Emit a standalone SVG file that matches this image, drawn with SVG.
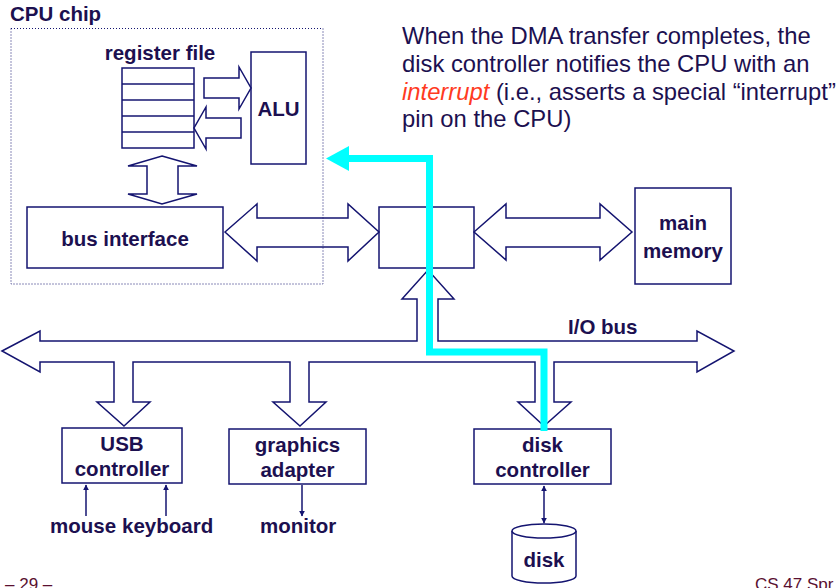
<svg xmlns="http://www.w3.org/2000/svg" width="839" height="588" viewBox="0 0 839 588">
<style>
.box{fill:#fff;stroke:#141470;stroke-width:1.5}
.fat{fill:#fff;stroke:#141470;stroke-width:1.5;stroke-linejoin:miter}
.lbl{font-family:"Liberation Sans",Arial,sans-serif;font-weight:bold;font-size:20.5px;fill:#1c1050;text-anchor:middle}
.lbl-l{font-family:"Liberation Sans",Arial,sans-serif;font-weight:bold;font-size:20.5px;fill:#1c1050}
.note{font-family:"Liberation Sans",Arial,sans-serif;font-size:23.8px;fill:#1c1050}
.foot{font-family:"Liberation Sans",Arial,sans-serif;font-size:17px;fill:#5a1030}
.thin{stroke:#141470;stroke-width:1.5;fill:none}
</style>
<defs>
<marker id="ah" viewBox="0 0 10 10" refX="9" refY="5" markerWidth="6" markerHeight="6" markerUnits="userSpaceOnUse" orient="auto-start-reverse">
<path d="M0,0 L10,5 L0,10 z" fill="#141470"/>
</marker>
</defs>
<rect width="839" height="588" fill="#fff"/>

<g id="cpu-chip">
<rect x="11" y="28.5" width="312" height="255.5" fill="none" stroke="#141470" stroke-width="1" stroke-dasharray="1,2"/>
<text class="lbl-l" x="10" y="21">CPU chip</text>
</g>

<g id="register-file">
<text class="lbl" x="160" y="60">register file</text>
<rect class="box" x="122" y="68" width="72" height="80"/>
<line class="thin" x1="122" y1="84" x2="194" y2="84"/>
<line class="thin" x1="122" y1="100" x2="194" y2="100"/>
<line class="thin" x1="122" y1="116" x2="194" y2="116"/>
<line class="thin" x1="122" y1="132" x2="194" y2="132"/>
</g>

<g id="alu">
<rect class="box" x="251" y="52" width="55" height="112"/>
<text class="lbl" x="278.5" y="116">ALU</text>
</g>

<g id="bus-interface">
<rect class="box" x="27" y="207" width="196" height="61"/>
<text class="lbl" x="125" y="246">bus interface</text>
</g>

<g id="io-bridge">
<rect class="box" x="379" y="207" width="95" height="61"/>
</g>

<g id="main-memory">
<rect class="box" x="635" y="188" width="96" height="96"/>
<text class="lbl" x="683" y="230">main</text>
<text class="lbl" x="683" y="258">memory</text>
</g>

<g id="usb-controller">
<rect class="box" x="62" y="428" width="120" height="55"/>
<text class="lbl" x="122" y="451">USB</text>
<text class="lbl" x="122" y="476">controller</text>
</g>

<g id="graphics-adapter">
<rect class="box" x="229" y="429" width="137" height="55"/>
<text class="lbl" x="297.5" y="452">graphics</text>
<text class="lbl" x="297.5" y="477">adapter</text>
</g>

<g id="disk-controller">
<rect class="box" x="474" y="429" width="137" height="55"/>
<text class="lbl" x="542.5" y="452">disk</text>
<text class="lbl" x="542.5" y="477">controller</text>
</g>

<g id="disk">
<path d="M512,531 V576 A32,7 0 0 0 576,576 V531" fill="#fff" stroke="#141470" stroke-width="1.5"/>
<ellipse cx="544" cy="531" rx="32" ry="7" fill="#fff" stroke="#141470" stroke-width="1.5"/>
<text class="lbl" x="544" y="567">disk</text>
</g>

<g id="mouse"><text class="lbl-l" x="50" y="533">mouse</text></g>
<g id="keyboard"><text class="lbl-l" x="122" y="533">keyboard</text></g>
<g id="monitor"><text class="lbl-l" x="260" y="533">monitor</text></g>

<g id="note">
<text class="note" x="402" y="43.5">When the DMA transfer completes, the</text>
<text class="note" x="402" y="71.5">disk controller notifies the CPU with an</text>
<text class="note" x="402" y="99.5"><tspan font-style="italic" fill="#ff3b1f">interrupt</tspan> (i.e., asserts a special “interrupt”</text>
<text class="note" x="402" y="127">pin on the CPU)</text>
</g>

<g id="connectors">
<polygon class="fat" points="204,78 239,78 239,67 251,88 239,109 239,98 204,98"/>
<polygon class="fat" points="241,118 206,118 206,107 194,128 206,149 206,138 241,138"/>
<polygon class="fat" points="162,156 197,166 178,166 178,194 197,194 162,204 128,194 147,194 147,166 128,166"/>
<polygon class="fat" fill-opacity="0" points="225,232 257,204 257,218 348,218 348,204 379,232 348,261 348,247 257,247 257,261"/>
<polygon class="fat" points="474,232 506,204 506,218 600,218 600,204 632,232 600,260 600,247 506,247 506,260"/>
<polygon class="fat" points="2,351 40,331 40,341 417,341 417,299 402,299 428,270 454,299 438,299 438,341 697,341 697,331 734,351 697,372 697,362 554,362 554,402 571,402 544,426 518,402 535,402 535,362 309,362 309,402 326,402 300,426 273,402 290,402 290,362 133,362 133,402 150,402 124,426 97,402 114,402 114,362 40,362 40,372"/>
<text class="lbl-l" x="568" y="334">I/O bus</text>
<line class="thin" x1="86" y1="516" x2="86" y2="485" marker-end="url(#ah)"/>
<line class="thin" x1="166" y1="516" x2="166" y2="485" marker-end="url(#ah)"/>
<line class="thin" x1="302" y1="485" x2="302" y2="516" marker-end="url(#ah)"/>
<line class="thin" x1="544" y1="486" x2="544" y2="523" marker-start="url(#ah)" marker-end="url(#ah)"/>
<path d="M544,431 V352 H429.5 V158.5 H347" fill="none" stroke="#00ffff" stroke-width="7" stroke-linejoin="miter"/>
<polygon points="349,146 326,158.5 349,171" fill="#00ffff"/>
</g>

<text class="foot" x="5" y="590">– 29 –</text>
<text class="foot" x="755" y="590">CS 47 Spr</text>
</svg>
